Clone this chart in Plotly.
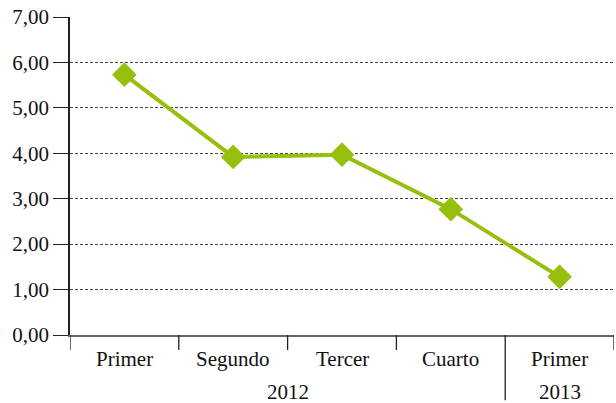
import plotly.graph_objects as go

categories = ["Primer", "Segundo", "Tercer", "Cuarto", "Primer"]
years = ["2012", "2012", "2012", "2012", "2013"]
values = [5.73, 3.92, 3.97, 2.77, 1.28]
y_ticks = [0, 1, 2, 3, 4, 5, 6, 7]

green = "#97BF0D"
font_family = "Liberation Serif, DejaVu Serif, serif"
fsize = 21
x_idx = list(range(len(categories)))

fig = go.Figure()
fig.add_trace(go.Scatter(
    x=x_idx, y=values, mode="lines+markers",
    line=dict(color=green, width=4),
    marker=dict(symbol="diamond", size=19, color=green),
    showlegend=False, hoverinfo="skip"))

shapes = []
for i in range(len(categories) + 1):
    xb = i - 0.5
    long_sep = (0 < i < len(categories)) and years[i] != years[i - 1]
    shapes.append(dict(type="line", xref="x", yref="paper",
                       x0=xb, x1=xb, y0=0, y1=-0.205 if long_sep else -0.047,
                       line=dict(color="#222", width=1.3)))

annotations = []
for i, c in enumerate(categories):
    annotations.append(dict(x=i, xref="x", y=-0.033, yref="paper", text=c,
                            showarrow=False, yanchor="top",
                            font=dict(family=font_family, size=fsize, color="#111")))
groups = {}
for i, yv in enumerate(years):
    groups.setdefault(yv, []).append(i)
for yv, idxs in groups.items():
    annotations.append(dict(x=sum(idxs) / len(idxs), xref="x", y=-0.135, yref="paper",
                            text=yv, showarrow=False, yanchor="top",
                            font=dict(family=font_family, size=fsize, color="#111")))

fig.update_layout(
    width=616, height=403,
    margin=dict(l=70, r=2, t=17, b=68, autoexpand=False),
    paper_bgcolor="white", plot_bgcolor="white",
    separators=",.",
    shapes=shapes, annotations=annotations,
    font=dict(family=font_family, size=fsize, color="#111"),
    xaxis=dict(range=[-0.5, len(categories) - 0.5], showticklabels=False,
               showgrid=False, zeroline=False, ticks="",
               showline=True, linecolor="#666", linewidth=1.5, fixedrange=True),
    yaxis=dict(range=[0, 7], tickvals=y_ticks, tickformat=".2f",
               showgrid=True, gridcolor="#444", gridwidth=1, griddash="3px,2px",
               zeroline=False, showline=True, linecolor="#222", linewidth=1.5,
               ticks="outside", ticklen=15, tickcolor="#222", tickwidth=1.3,
               tickfont=dict(family=font_family, size=fsize, color="#111"),
               fixedrange=True),
)

fig.write_html("out.html", config={"displayModeBar": False},
               post_script="document.body.style.margin='0';")
